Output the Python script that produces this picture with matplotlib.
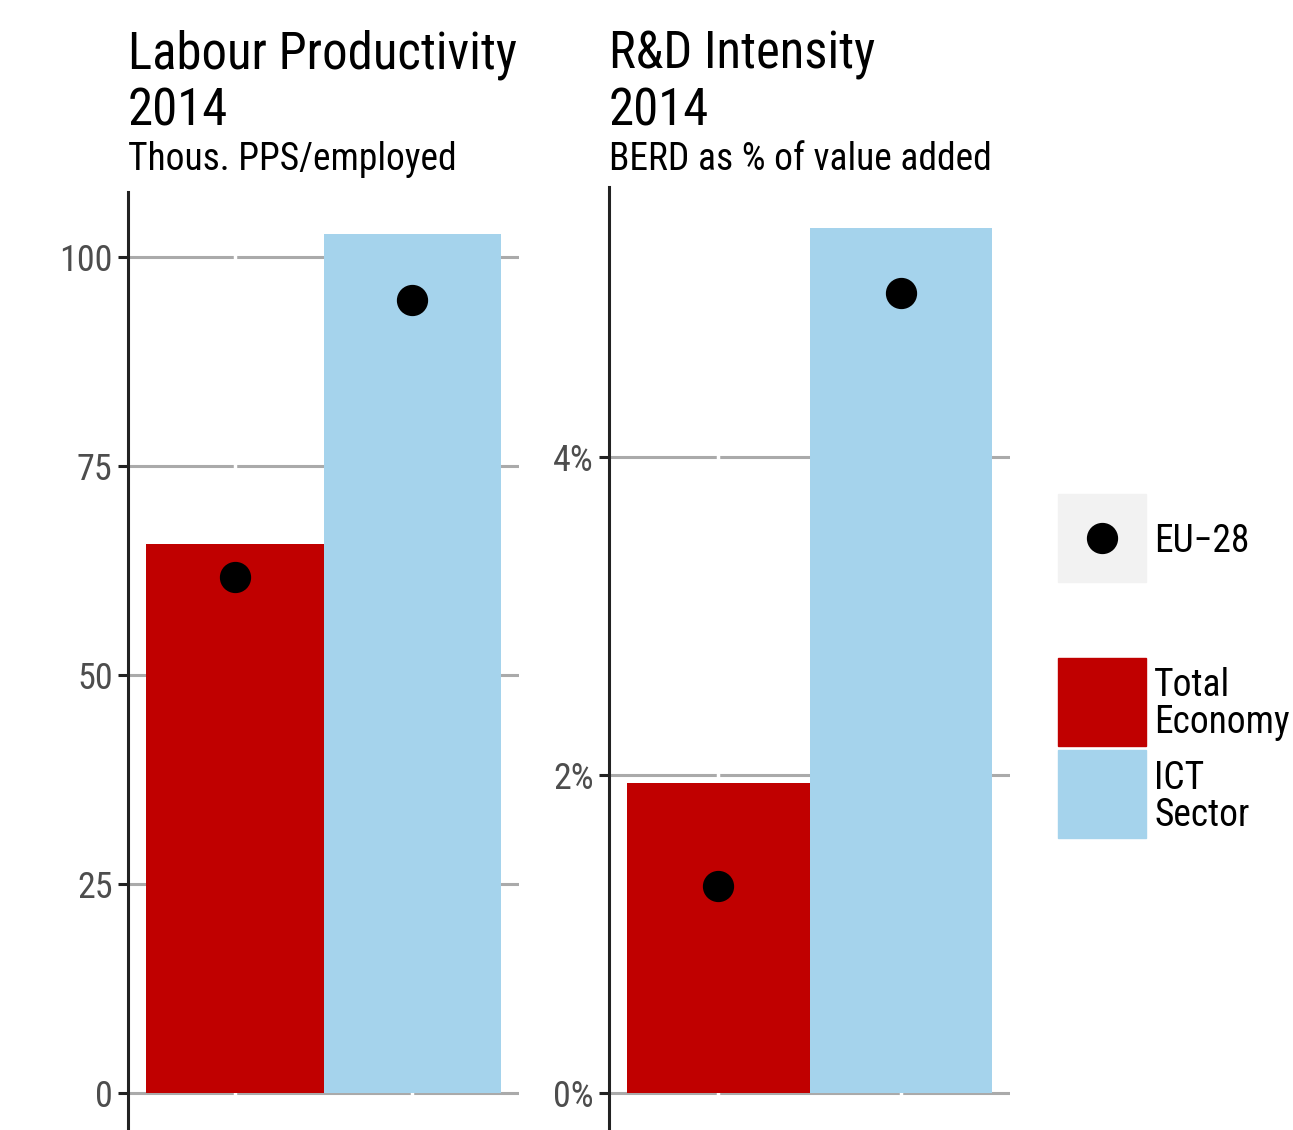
import matplotlib.pyplot as plt
from matplotlib.patches import Rectangle
from matplotlib.ticker import FuncFormatter

plt.rcParams['font.family'] = ['Roboto Condensed', 'DejaVu Sans']

groups = ['Total Economy', 'ICT Sector']
colors = ['#C00000', '#A5D3EC']

prod_values = [65.7, 102.8]
prod_eu28 = [61.7, 94.9]
prod_ticks = [0, 25, 50, 75, 100]

rd_values = [1.95, 5.44]
rd_eu28 = [1.30, 5.03]
rd_ticks = [0, 2, 4]

W, H = 1293, 1130
fig = plt.figure(figsize=(W / 100, H / 100), dpi=100)


def px(l, t, r, b):
    return [l / W, 1 - b / H, (r - l) / W, (b - t) / H]


def panel(rect, values, eu, ticks, ylim, fmt, title, subtitle, tx):
    ax = fig.add_axes(rect)
    x = [1, 2]
    ax.set_axisbelow(True)
    ax.bar(x, values, width=1.0, color=colors, zorder=2)
    ax.plot(x, eu, 'o', color='black', ms=21.5, zorder=3)
    for xi in x:
        ax.axvline(xi, color='white', lw=2.5, zorder=1)
    ax.set_xlim(0.4, 2.6)
    ax.set_ylim(*ylim)
    ax.set_yticks(ticks)
    ax.yaxis.set_major_formatter(FuncFormatter(fmt))
    ax.set_xticks(x)
    ax.tick_params(axis='x', length=0, labelbottom=False)
    ax.tick_params(axis='y', length=7, width=2.2, color='#222222',
                   labelsize=26, labelcolor='#4d4d4d', pad=4)
    ax.grid(axis='y', color='#aaaaaa', lw=2.2)
    for s in ['top', 'right', 'bottom']:
        ax.spines[s].set_visible(False)
    ax.spines['left'].set_color('#222222')
    ax.spines['left'].set_linewidth(2.2)
    fig.text(tx / W, 1 - 30 / H, title, fontsize=36.5, va='top', ha='left',
             linespacing=1.16)
    fig.text(tx / W, 1 - 141 / H, subtitle, fontsize=27, va='top', ha='left')
    return ax


panel(px(128, 192, 519, 1130), prod_values, prod_eu28, prod_ticks,
      (-4.43, 107.8), lambda v, p: f'{v:g}',
      'Labour Productivity\n2014', 'Thous. PPS/employed', 128)
panel(px(609, 187, 1010, 1130), rd_values, rd_eu28, rd_ticks,
      (-0.233, 5.70), lambda v, p: f'{v:g}%',
      'R&D Intensity\n2014', 'BERD as % of value added', 609)

# legend
lg = fig.add_axes([0, 0, 1, 1])
lg.set_xlim(0, W)
lg.set_ylim(H, 0)
lg.axis('off')
lg.add_patch(Rectangle((1058, 494), 88, 88, color='#f2f2f2'))
lg.plot([1102], [538], 'o', color='black', ms=21.5)
lg.text(1154, 541, 'EU\u221228', fontsize=27, va='center')
lg.add_patch(Rectangle((1058, 658), 88, 88, color=colors[0]))
lg.add_patch(Rectangle((1058, 750), 88, 88, color=colors[1]))
lg.text(1154, 704, 'Total\nEconomy', fontsize=27, va='center', linespacing=1.02)
lg.text(1154, 797, 'ICT\nSector', fontsize=27, va='center', linespacing=1.02)

fig.savefig('out.png', dpi=100)
